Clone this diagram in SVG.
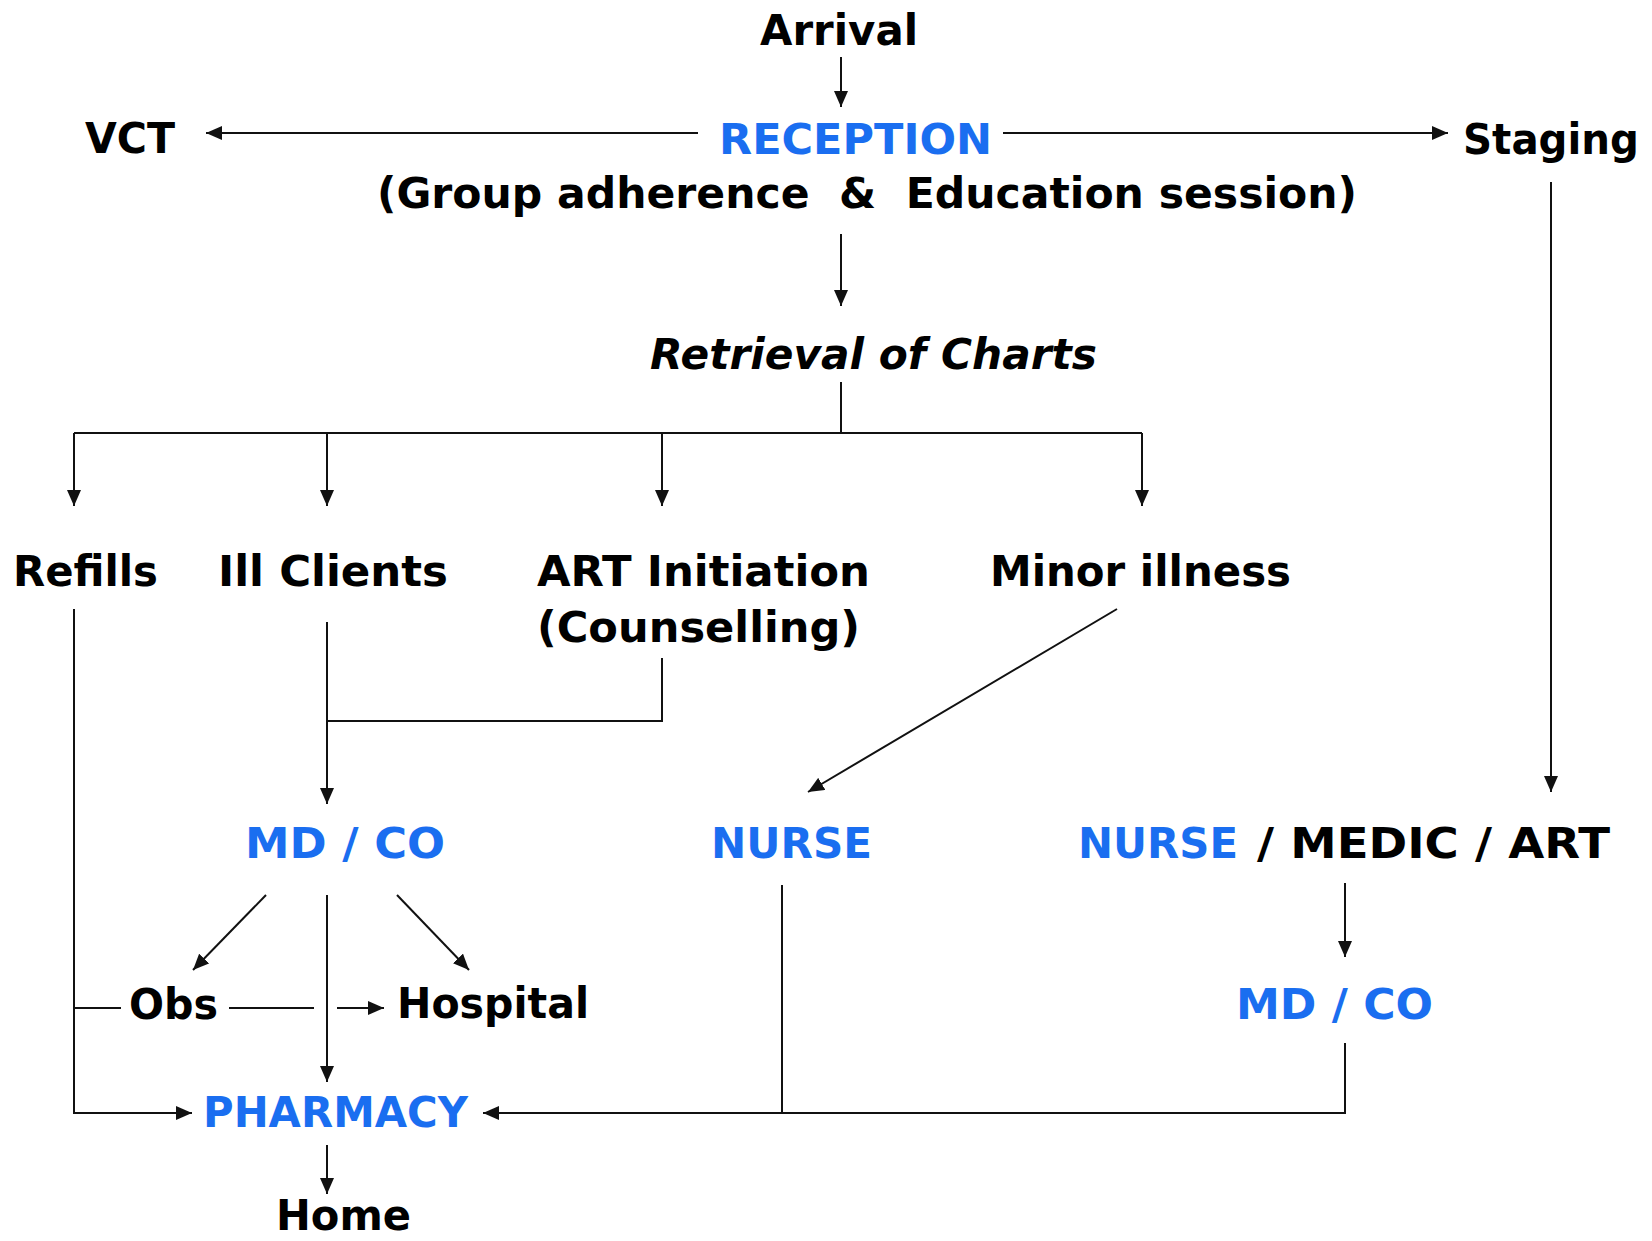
<svg xmlns="http://www.w3.org/2000/svg" width="1652" height="1241" viewBox="0 0 1652 1241">
  <style>
    .t { font-family: "DejaVu Sans", Verdana, "Liberation Sans", sans-serif; font-weight: bold; font-size: 43px; fill: #000; white-space: pre; }
    .b { fill: #1a6ef0; }
    .i { font-style: italic; }
    .ln { fill: none; stroke: #111; stroke-width: 2; }
    .ar { marker-end: url(#head); }
  </style>
  <defs>
    <marker id="head" viewBox="0 0 16 14" refX="16" refY="7" markerWidth="16" markerHeight="14" markerUnits="userSpaceOnUse" orient="auto">
      <path d="M0,0 L16,7 L0,14 Z" fill="#111"/>
    </marker>
  </defs>
  <rect width="1652" height="1241" fill="#fff"/>

  <!-- flow lines -->
  <g id="connectors">
    <path class="ln ar" d="M841 57 V107"/>
    <path class="ln ar" d="M698 133 H206"/>
    <path class="ln ar" d="M1003 133 H1448"/>
    <path class="ln ar" d="M841 234 V306"/>
    <path class="ln" d="M841 382 V433 M74 433 H1142"/>
    <path class="ln ar" d="M74 433 V506"/>
    <path class="ln ar" d="M327 433 V506"/>
    <path class="ln ar" d="M662 433 V506"/>
    <path class="ln ar" d="M1142 433 V506"/>
    <path class="ln ar" d="M74 609 V1113 H192"/>
    <path class="ln ar" d="M327 622 V804"/>
    <path class="ln" d="M662 658 V721 H327"/>
    <path class="ln ar" d="M1117 609 L808 792"/>
    <path class="ln ar" d="M1551 182 V792"/>
    <path class="ln ar" d="M266 895 L193 970"/>
    <path class="ln ar" d="M397 895 L469 970"/>
    <path class="ln ar" d="M327 895 V1082"/>
    <path class="ln" d="M74 1008 H121 M229 1008 H314"/>
    <path class="ln ar" d="M337 1008 H384"/>
    <path class="ln" d="M782 885 V1113"/>
    <path class="ln ar" d="M1345 883 V957"/>
    <path class="ln ar" d="M1345 1043 V1113 H483"/>
    <path class="ln ar" d="M327 1145 V1194"/>
  </g>

  <g id="arrival"><text class="t" x="760" y="45" textLength="158" lengthAdjust="spacingAndGlyphs">Arrival</text></g>
  <g id="reception">
    <text class="t b" x="719" y="154" textLength="273" lengthAdjust="spacingAndGlyphs">RECEPTION</text>
    <text class="t" x="377" y="208" textLength="980" lengthAdjust="spacingAndGlyphs">(Group adherence  &amp;  Education session)</text>
  </g>
  <g id="vct"><text class="t" x="85" y="153" textLength="90" lengthAdjust="spacingAndGlyphs">VCT</text></g>
  <g id="staging"><text class="t" x="1463" y="154" textLength="176" lengthAdjust="spacingAndGlyphs">Staging</text></g>
  <g id="retrieval"><text class="t i" x="650" y="369" textLength="447" lengthAdjust="spacingAndGlyphs">Retrieval of Charts</text></g>
  <g id="refills"><text class="t" x="13" y="586" textLength="145" lengthAdjust="spacingAndGlyphs">Refills</text></g>
  <g id="ill-clients"><text class="t" x="218" y="586" textLength="230" lengthAdjust="spacingAndGlyphs">Ill Clients</text></g>
  <g id="art-initiation">
    <text class="t" x="537" y="586" textLength="333" lengthAdjust="spacingAndGlyphs">ART Initiation</text>
    <text class="t" x="537" y="642" textLength="323" lengthAdjust="spacingAndGlyphs">(Counselling)</text>
  </g>
  <g id="minor-illness"><text class="t" x="990" y="586" textLength="301" lengthAdjust="spacingAndGlyphs">Minor illness</text></g>
  <g id="md-co"><text class="t b" x="245" y="858" textLength="200" lengthAdjust="spacingAndGlyphs">MD / CO</text></g>
  <g id="nurse"><text class="t b" x="711" y="858" textLength="161" lengthAdjust="spacingAndGlyphs">NURSE</text></g>
  <g id="nurse-medic-art">
    <text class="t b" x="1078" y="858" textLength="160" lengthAdjust="spacingAndGlyphs">NURSE</text>
    <text class="t" x="1257" y="858" textLength="353" lengthAdjust="spacingAndGlyphs">/ MEDIC / ART</text>
  </g>
  <g id="obs"><text class="t" x="129" y="1019" textLength="89" lengthAdjust="spacingAndGlyphs">Obs</text></g>
  <g id="hospital"><text class="t" x="397" y="1018" textLength="192" lengthAdjust="spacingAndGlyphs">Hospital</text></g>
  <g id="md-co-2"><text class="t b" x="1236" y="1019" textLength="197" lengthAdjust="spacingAndGlyphs">MD / CO</text></g>
  <g id="pharmacy"><text class="t b" x="203" y="1127" textLength="265" lengthAdjust="spacingAndGlyphs">PHARMACY</text></g>
  <g id="home"><text class="t" x="276" y="1230" textLength="135" lengthAdjust="spacingAndGlyphs">Home</text></g>
</svg>
